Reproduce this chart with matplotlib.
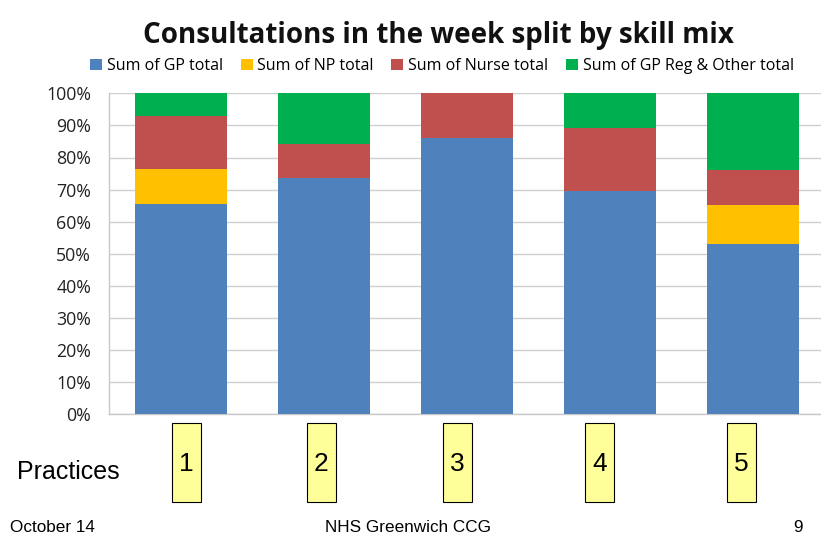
import matplotlib
matplotlib.use("Agg")
import matplotlib.pyplot as plt
from matplotlib.patches import Rectangle
from matplotlib.ticker import FuncFormatter

practices = ["1", "2", "3", "4", "5"]
series = ["Sum of GP total", "Sum of NP total", "Sum of Nurse total", "Sum of GP Reg & Other total"]
gp_total = [65.5, 73.7, 86.0, 69.7, 53.0]
np_total = [10.8, 0.0, 0.0, 0.0, 12.1]
nurse_total = [16.6, 10.4, 14.0, 19.4, 10.9]
other_total = [7.1, 15.9, 0.0, 10.9, 24.0]
colors = ["#4F81BD", "#FFC000", "#C0504D", "#00B050"]

W, H = 821, 535
fig = plt.figure(figsize=(W / 100, H / 100), dpi=100)
fig.patch.set_facecolor("white")

ax = fig.add_axes([109.3 / W, 1 - 414.3 / H, (W - 109.3) / W, (414.3 - 93.3) / H])
x = list(range(len(practices)))
bottom = [0.0] * len(practices)
handles = []
for vals, name, col in zip([gp_total, np_total, nurse_total, other_total], series, colors):
    b = ax.bar(x, vals, width=0.64, bottom=bottom, color=col, label=name, zorder=3)
    handles.append(b)
    bottom = [bb + v for bb, v in zip(bottom, vals)]

ax.set_xlim(-0.5, 4.477)
ax.set_ylim(0, 100)
ax.set_yticks(range(0, 101, 10))
ax.yaxis.set_major_formatter(FuncFormatter(lambda v, p: f"{int(v)}%"))
ax.set_xticks([])
ax.grid(axis="y", color="#D0D0D0", lw=1.0, zorder=0)
for s in ["top", "right"]:
    ax.spines[s].set_visible(False)
for s in ["left", "bottom"]:
    ax.spines[s].set_color("#C8C8C8")
    ax.spines[s].set_linewidth(1.0)
ax.tick_params(axis="y", length=0, pad=13, labelsize=12.8, labelcolor="#222222")
for lab in ax.get_yticklabels():
    lab.set_fontfamily("Open Sans")

fig.text(438 / W, 1 - 35 / H, "Consultations in the week split by skill mix",
         ha="center", va="center", fontsize=20, fontweight="bold",
         family="Open Sans", color="#111111")

fig.legend(handles=handles, labels=series, loc="center", bbox_to_anchor=(442 / W, 1 - 66 / H),
           ncol=4, frameon=False, handlelength=0.75, handleheight=0.75, handletextpad=0.3,
           columnspacing=1.1, prop={"family": "Open Sans", "size": 11.5})

# practice number boxes under the bars
box_left = [172, 307, 443, 585, 727]
for lbl, bx in zip(practices, box_left):
    fig.patches.append(Rectangle((bx / W, 1 - 501.7 / H), 28.7 / W, 78.4 / H,
                                 transform=fig.transFigure, facecolor="#FFFF99",
                                 edgecolor="black", lw=0.8))
    fig.text((bx + 14.3) / W, 1 - 464 / H, lbl, ha="center", va="center",
             fontsize=19, family="Liberation Sans", color="black")

fig.text(17 / W, 1 - 472 / H, "Practices", ha="left", va="center",
         fontsize=18, family="Liberation Sans", color="black")

fig.text(10 / W, 1 - 527 / H, "October 14", ha="left", va="center",
         fontsize=12.3, family="Liberation Sans")
fig.text(408 / W, 1 - 527 / H, "NHS Greenwich CCG", ha="center", va="center",
         fontsize=12.3, family="Liberation Sans")
fig.text(803 / W, 1 - 527 / H, "9", ha="right", va="center",
         fontsize=12.3, family="Liberation Sans")

fig.savefig("out.png", dpi=100)
